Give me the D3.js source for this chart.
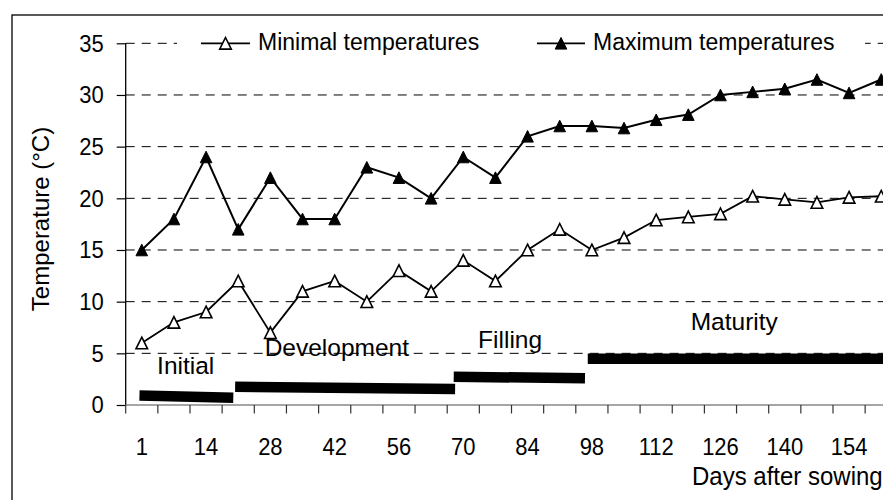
<!DOCTYPE html>
<html><head><meta charset="utf-8">
<script src="https://cdn.jsdelivr.net/npm/d3@7"></script>
<style>
html,body{margin:0;padding:0;background:#fff;}
svg{display:block;font-family:"Liberation Sans",Arial,sans-serif;}
</style></head>
<body><svg id="c" width="883" height="500"></svg>
<script>
// ---- data ----
const days = [1,7,14,21,28,35,42,49,56,63,70,77,84,91,98,105,112,119,126,133,140,147,154,161];
const tickLabels = [1,14,28,42,56,70,84,98,112,126,140,154];
const minTemps = [6,8,9,12,7,11,12,10,13,11,14,12,15,17,15,16.2,17.9,18.2,18.5,20.2,19.9,19.6,20.1,20.2];
const maxTemps = [15,18,24,17,22,18,18,23,22,20,24,22,26,27,27,26.8,27.6,28.1,30,30.3,30.6,31.5,30.2,31.5];
const yTicks = [0,5,10,15,20,25,30,35];
const phaseNames = ["Initial","Development","Filling","Maturity"];
const phaseStartDay = [0.5,21.2,68.5,97.5];
const phaseEndDay = [20.8,68.8,96.9,200];
const phaseStartTemp = [0.92,1.77,2.74,4.47];
const phaseEndTemp = [0.71,1.55,2.58,4.47];
const phaseLabelDay = [10.5,43.2,80.7,129.2];
const phaseLabelTemp = [3.0,4.74,5.55,7.26];
const seriesNames = ["Minimal temperatures","Maximum temperatures"];

// ---- layout ----
const svg = d3.select("#c");
const X0 = 125.7, X1 = 897.3, Y0 = 405, Y1 = 43.3;
const x = d3.scaleBand().domain(days).range([X0, X1]).padding(0);
const xc = d => x(d) + x.bandwidth()/2;
const xDay = d3.scaleLinear().domain([days[0], days[days.length-1]]).range([xc(days[0]), xc(days[days.length-1])]);
const y = d3.scaleLinear().domain([0,35]).range([Y0, Y1]);

// outer frame
svg.append("rect").attr("x",12).attr("y",15).attr("width",920).attr("height",520)
  .attr("fill","none").attr("stroke","#000").attr("stroke-width",1.3);

// gridlines
svg.append("g").selectAll("line").data(yTicks.filter(v=>v>0)).join("line")
  .attr("x1",X0).attr("x2",900).attr("y1",d=>y(d)).attr("y2",d=>y(d))
  .attr("stroke","#000").attr("stroke-width",1).attr("stroke-dasharray","9,7");

// y axis
const yAxis = d3.axisLeft(y).tickValues(yTicks).tickSize(9).tickPadding(13).tickFormat(d3.format("d"));
const gy = svg.append("g").attr("transform",`translate(${X0},0)`).call(yAxis);
gy.select(".domain").attr("stroke","#000").attr("stroke-width",1.3).attr("d",`M0,${Y0}V${Y1}`);
gy.selectAll(".tick line").attr("stroke","#000").attr("stroke-width",1.2);
gy.selectAll(".tick text").attr("font-size",22).attr("fill","#000")
  .attr("font-family","'Liberation Sans',Arial,sans-serif").attr("dy","0.33em")
  .attr("transform","scale(1,1.1)");

// x axis line and boundary ticks
svg.append("line").attr("x1",X0).attr("x2",900).attr("y1",Y0).attr("y2",Y0)
  .attr("stroke","#888").attr("stroke-width",1.5);
const edges = days.map(d=>x(d)).concat([X1]);
svg.append("g").selectAll("line").data(edges).join("line")
  .attr("x1",d=>d).attr("x2",d=>d).attr("y1",Y0).attr("y2",Y0+8.5)
  .attr("stroke","#333").attr("stroke-width",1.2);
// x tick labels
svg.append("g").selectAll("text").data(tickLabels).join("text")
  .attr("transform",d=>`translate(${xc(d)},455) scale(1,1.1)`)
  .attr("text-anchor","middle").attr("font-size",22).attr("fill","#000").text(d=>d);

// axis titles
svg.append("text").attr("transform","translate(49,219) rotate(-90)")
  .attr("text-anchor","middle").attr("font-size",24).attr("fill","#000").text("Temperature (°C)");
svg.append("text").attr("transform","translate(692,485) scale(1,1.08)")
  .attr("font-size",24).attr("fill","#000").text("Days after sowing");

// phase bars
const phases = phaseNames.map((n,i)=>({n, s:phaseStartDay[i], e:phaseEndDay[i], ts:phaseStartTemp[i], te:phaseEndTemp[i], ld:phaseLabelDay[i], lt:phaseLabelTemp[i]}));
svg.append("g").selectAll("line").data(phases).join("line")
  .attr("x1",d=>xDay(d.s)).attr("x2",d=>xDay(d.e)).attr("y1",d=>y(d.ts)).attr("y2",d=>y(d.te))
  .attr("stroke","#000").attr("stroke-width",10.5);
svg.append("g").selectAll("text").data(phases).join("text")
  .attr("x",d=>xDay(d.ld)).attr("y",d=>y(d.lt)).attr("text-anchor","middle")
  .attr("font-size",24.5).attr("fill","#000").text(d=>d.n);

// series
const tri = "M0,-5.8L5.8,5.8L-5.8,5.8Z";
const line = d3.line().x((d,i)=>xc(days[i])).y(d=>y(d));
svg.append("path").datum(maxTemps).attr("d",line).attr("fill","none").attr("stroke","#000").attr("stroke-width",2);
svg.append("path").datum(minTemps).attr("d",line).attr("fill","none").attr("stroke","#000").attr("stroke-width",1.8);
svg.append("g").selectAll("path").data(maxTemps).join("path")
  .attr("transform",(d,i)=>`translate(${xc(days[i])},${y(d)})`).attr("d",tri).attr("fill","#000").attr("stroke","#000").attr("stroke-width",1);
svg.append("g").selectAll("path").data(minTemps).join("path")
  .attr("transform",(d,i)=>`translate(${xc(days[i])},${y(d)})`).attr("d",tri).attr("fill","#fff").attr("stroke","#000").attr("stroke-width",1.6);

// legend
const lg = svg.append("g");
lg.append("rect").attr("x",177).attr("y",28).attr("width",688).attr("height",30).attr("fill","#fff");
const legItems = [{x1:201,x2:250,tx:258,fill:"#fff"},{x1:537,x2:585,tx:593,fill:"#000"}];
legItems.forEach((it,i)=>{
  lg.append("line").attr("x1",it.x1).attr("x2",it.x2).attr("y1",43.3).attr("y2",43.3).attr("stroke","#000").attr("stroke-width",1.8);
  lg.append("path").attr("transform",`translate(${(it.x1+it.x2)/2},43.3)`).attr("d",tri)
    .attr("fill",it.fill).attr("stroke","#000").attr("stroke-width",i===0?1.6:1);
  lg.append("text").attr("x",it.tx).attr("y",49.5).attr("font-size",23).attr("fill","#000").text(seriesNames[i]);
});
</script></body></html>
